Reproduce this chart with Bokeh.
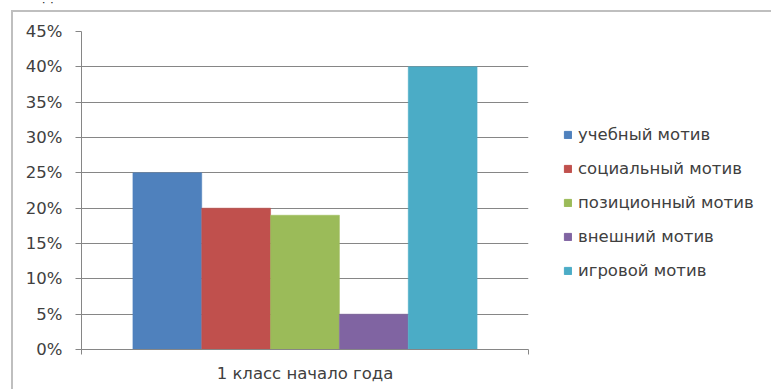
from bokeh.plotting import figure
from bokeh.layouts import column, row
from bokeh.models import (Range1d, NumeralTickFormatter, FixedTicker,
                          Legend, LegendItem, Div)
from bokeh.embed import file_html
from bokeh.resources import INLINE

# Data
category = ["1 класс начало года"]
motives = ["учебный мотив", "социальный мотив", "позиционный мотив",
           "внешний мотив", "игровой мотив"]
shares = [0.25, 0.20, 0.19, 0.05, 0.40]
colors = ["#4F81BD", "#C0504D", "#9BBB59", "#8064A2", "#4BACC6"]
y_ticks = [0.0, 0.05, 0.10, 0.15, 0.20, 0.25, 0.30, 0.35, 0.40, 0.45]

FONT = "DejaVu Sans"
TEXT = "#404040"
AXIS = "#868686"
EDGE = "#BFBFBF"
FS = "16.5px"

# main chart: one category slot spanning 0..1 on the x scale
p = figure(width=525, height=377, x_range=Range1d(0, 1), y_range=Range1d(0, 0.45),
           output_backend="svg", toolbar_location=None,
           min_border_left=68, min_border_right=10, min_border_top=19,
           min_border_bottom=40)
p.outline_line_color = None
p.background_fill_color = "white"
p.border_fill_color = "white"

bar_w = 0.154
group_center = 0.5
for i, (name, val, col) in enumerate(zip(motives, shares, colors)):
    x = group_center + (i - 2) * bar_w
    p.vbar(x=[x], top=[val], width=bar_w, fill_color=col, line_color=col,
           line_width=0.5)

# y axis
p.yaxis.ticker = FixedTicker(ticks=y_ticks)
p.yaxis.formatter = NumeralTickFormatter(format="0%")
p.yaxis.axis_line_color = AXIS
p.yaxis.major_tick_line_color = AXIS
p.yaxis.major_tick_out = 6
p.yaxis.major_tick_in = 0
p.yaxis.minor_tick_line_color = None
p.yaxis.major_label_text_font = FONT
p.yaxis.major_label_text_font_size = FS
p.yaxis.major_label_text_color = TEXT
p.yaxis.major_label_standoff = 13

# x axis: label in the middle of the slot, tick marks at its edges
p.xaxis.ticker = FixedTicker(ticks=[group_center], minor_ticks=[0, 1])
p.xaxis.major_label_overrides = {group_center: category[0]}
p.xaxis.axis_line_color = AXIS
p.xaxis.major_tick_line_color = None
p.xaxis.minor_tick_line_color = AXIS
p.xaxis.minor_tick_out = 5
p.xaxis.minor_tick_in = 0
p.xaxis.major_label_text_font = FONT
p.xaxis.major_label_text_font_size = FS
p.xaxis.major_label_text_color = TEXT
p.xaxis.major_label_standoff = 8

p.xgrid.grid_line_color = None
p.ygrid.grid_line_color = AXIS
p.ygrid.grid_line_width = 1

# legend panel
lp = figure(width=233, height=377, x_range=Range1d(0, 1), y_range=Range1d(0, 1),
            output_backend="svg", toolbar_location=None, x_axis_type=None,
            y_axis_type=None, min_border=0)
lp.outline_line_color = None
lp.grid.grid_line_color = None
lp.background_fill_color = "white"
lp.border_fill_color = "white"
items = []
for name, val, col in zip(motives, shares, colors):
    r = lp.vbar(x=[0], top=[val], width=0.1, fill_color=col, line_color=col,
                visible=False)
    items.append(LegendItem(label=name, renderers=[r]))
legend = Legend(items=items, location=(25, 69), orientation="vertical",
                glyph_width=9, glyph_height=9, label_height=20, spacing=14,
                label_standoff=6, padding=0, margin=0,
                label_text_font=FONT, label_text_font_size=FS,
                label_text_color=TEXT, border_line_color=None,
                background_fill_alpha=0, inactive_fill_alpha=0)
lp.add_layout(legend)

# heading line above the chart, only its lower edge shows
head = Div(text="<div style='height:10px;overflow:hidden'>"
                "<div style='margin-top:-16px;padding-left:24px;font-family:DejaVu Sans;"
                "font-size:16px;line-height:20px;color:#222'>годы</div></div>",
           width=771, height=10, margin=0, styles={"overflow": "hidden"})
top_edge = Div(text="", width=760, height=2, margin=(0, 0, 0, 11),
               styles={"background-color": EDGE})
left_edge = Div(text="", width=2, height=377, margin=(0, 0, 0, 11),
                styles={"background-color": EDGE})

layout = column(head, top_edge, row(left_edge, p, lp, spacing=0), spacing=0)
open("out.html", "w").write(file_html(layout, INLINE))
